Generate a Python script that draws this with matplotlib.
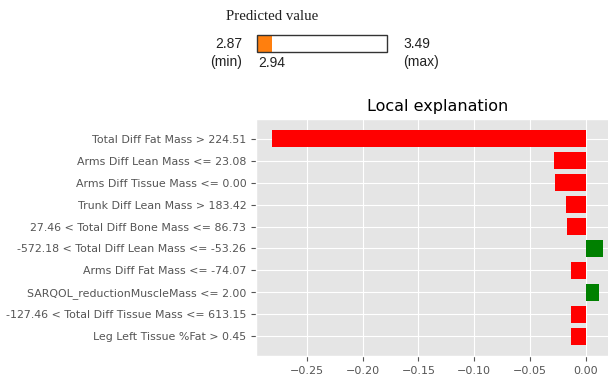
import matplotlib
matplotlib.use("Agg")
from matplotlib import pyplot as plt
from matplotlib.patches import Rectangle

# LIME explanation values (top to bottom)
features = [
    "Total Diff Fat Mass > 224.51",
    "Arms Diff Lean Mass <= 23.08",
    "Arms Diff Tissue Mass <= 0.00",
    "Trunk Diff Lean Mass > 183.42",
    "27.46 < Total Diff Bone Mass <= 86.73",
    "-572.18 < Total Diff Lean Mass <= -53.26",
    "Arms Diff Fat Mass <= -74.07",
    "SARQOL_reductionMuscleMass <= 2.00",
    "-127.46 < Total Diff Tissue Mass <= 613.15",
    "Leg Left Tissue %Fat > 0.45",
]
weights = [-0.281, -0.0285, -0.0270, -0.0175, -0.0165,
           0.0152, -0.0135, 0.0125, -0.0135, -0.0130]

pred_min = 2.87
pred_max = 3.49
pred_value = 2.94

plt.style.use("ggplot")
fig = plt.figure(figsize=(6.08, 3.77), dpi=100)

# predicted value bar (top)
axp = fig.add_axes([257 / 608, 1 - 52 / 377, 130 / 608, 17 / 377])
axp.set_xlim(pred_min, pred_max)
axp.set_ylim(0, 1)
axp.axis("off")
axp.add_patch(Rectangle((pred_min, 0), pred_value - pred_min, 1,
                        facecolor="#ff7f0e", edgecolor="none"))
axp.add_patch(Rectangle((pred_min, 0), pred_max - pred_min, 1,
                        facecolor="none", edgecolor="#333333", linewidth=1,
                        clip_on=False))
fig.text(272 / 608, 1 - 16 / 377, "Predicted value", family="Liberation Serif",
         fontsize=10.7, ha="center", va="center", color="#222222")
fig.text(242 / 608, 1 - 44 / 377, "%.2f" % pred_min, family="Liberation Sans",
         fontsize=10, ha="right", va="center", color="#222222")
fig.text(242 / 608, 1 - 62 / 377, "(min)", family="Liberation Sans",
         fontsize=10, ha="right", va="center", color="#222222")
fig.text(258 / 608, 1 - 63 / 377, "%.2f" % pred_value, family="Liberation Sans",
         fontsize=10, ha="left", va="center", color="#222222")
fig.text(403 / 608, 1 - 44 / 377, "%.2f" % pred_max, family="Liberation Sans",
         fontsize=10, ha="left", va="center", color="#222222")
fig.text(403 / 608, 1 - 62 / 377, "(max)", family="Liberation Sans",
         fontsize=10, ha="left", va="center", color="#222222")

# local explanation
ax = fig.add_axes([256 / 608, 1 - 356 / 377, 363 / 608, 237 / 377])
vals = weights[::-1]
names = features[::-1]
colors = ["green" if v > 0 else "red" for v in vals]
pos = list(range(len(vals)))
ax.barh(pos, vals, align="center", color=colors)
ax.set_yticks(pos)
ax.set_yticklabels(names, fontsize=7.9)
ax.tick_params(axis="x", labelsize=8)
ax.set_xticks([-0.25, -0.20, -0.15, -0.10, -0.05, 0.00])
ax.set_title("Local explanation", fontsize=11.5)

fig.savefig("out.png", dpi=100)
